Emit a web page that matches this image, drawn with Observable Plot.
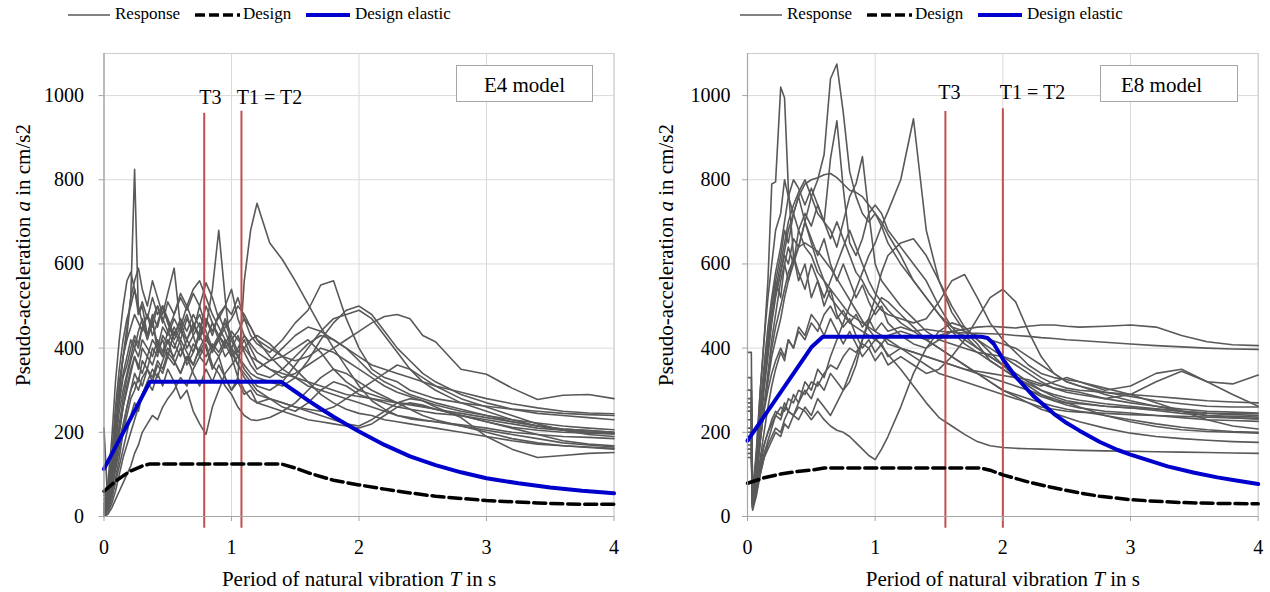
<!DOCTYPE html>
<html><head><meta charset="utf-8">
<script src="https://cdn.jsdelivr.net/npm/d3@7"></script>
<script src="https://cdn.jsdelivr.net/npm/@observablehq/plot@0.6"></script>
<style>
html,body{margin:0;padding:0;background:#fff;}
#root{position:relative;width:1270px;height:592px;font-family:"Liberation Serif","Times New Roman",Times,serif;overflow:hidden;background:#fff;}
.panel{position:absolute;top:0;width:635px;height:592px;}
.panel svg{position:absolute;left:0;top:0;}
.legend{position:absolute;top:0;left:0;width:635px;height:32px;font-size:17px;color:#000;}
.legend svg.sw{position:absolute;top:8px;}
.legend .lab{position:absolute;top:4px;line-height:20px;white-space:nowrap;}
.box{position:absolute;box-sizing:border-box;border:1.4px solid #a6a6a6;background:#fff;font-size:21px;line-height:36px;padding-top:1px;white-space:nowrap;color:#000;}
</style></head>
<body><div id="root"></div>
<script>
// ---------- data ----------
const xTicks = [0, 1, 2, 3, 4];
const yTicks = [0, 200, 400, 600, 800, 1000];
const xTitle = ["Period of natural vibration ", "T", " in s"];
const yTitle = ["Pseudo-acceleration ", "a", " in cm/s2"];
const legendLabels = ["Response", "Design", "Design elastic"];
const modelLabels = ["E4 model", "E8 model"];
const periodLabels = ["T3", "T1 = T2"];

// E4 model
const periodsE4 = [0,0.03,0.06,0.09,0.12, 0.15,0.18,0.21,0.24,0.27, 0.3,0.34,0.38,0.42,0.46, 0.5,0.55,0.6,0.65,0.7, 0.75,0.8,0.85,0.9,0.95, 1.0,1.05,1.1,1.15,1.2, 1.3,1.4,1.5,1.6,1.7, 1.8,1.9,2.0,2.1,2.2, 2.3,2.4,2.5,2.6,2.8, 3.0,3.2,3.4,3.6,3.8, 4.0];
const responseE4 = [
 [210,30,90,180,300, 380,430,520,825,480, 500,430,470,390,420, 380,440,410,360,390, 430,400,350,380,330, 300,320,290,300,270, 280,260,250,270,300, 320,310,290,280,270, 260,255,250,245,240, 230,220,210,205,200, 198],
 [20,40,80,150,200, 260,300,340,380,350, 400,380,420,400,450, 430,470,440,480,430, 460,420,400,380,410, 380,330,560,680,744, 650,610,560,505,450, 400,355,310,275,255, 240,232,228,225,218, 210,200,195,190,188, 185],
 [10,30,60,110,160, 210,260,300,340,320, 370,350,400,380,430, 410,450,420,470,440, 500,450,540,680,520, 380,400,430,410,390, 370,380,400,420,390, 350,320,300,290,280, 270,265,260,255,245, 235,225,215,208,204, 200],
 [30,50,100,200,270, 330,360,400,430,410, 450,480,430,460,500, 470,430,460,420,450, 480,440,400,430,460, 420,440,470,430,410, 390,420,460,490,550, 560,470,400,350,330, 320,300,290,280,270, 262,255,250,245,242, 240],
 [15,40,70,120,180, 220,260,300,320,300, 330,350,320,360,340, 380,360,400,370,410, 390,420,400,430,410, 440,420,400,380,370, 350,330,340,360,380, 400,420,440,460,475, 480,470,430,415,350, 338,305,278,288,290, 280],
 [5,20,50,90,140, 200,240,280,300,330, 310,350,330,370,350, 390,370,340,380,360, 400,380,410,390,420, 400,380,360,340,330, 320,310,330,370,420, 460,490,500,480,440, 400,370,340,320,290, 270,255,245,240,235, 230],
 [25,60,120,220,280, 340,380,420,400,440, 470,430,480,450,500, 460,430,470,440,480, 450,420,460,430,400, 420,380,350,330,310, 300,320,360,400,440, 470,480,490,470,430, 390,350,320,300,270, 250,230,215,205,200, 196],
 [0,10,30,60,100, 140,170,200,230,260, 290,320,300,340,310, 350,320,280,300,250, 220,195,260,300,340, 360,380,400,420,430, 410,380,350,320,290, 270,255,245,240,230, 225,220,215,210,200, 190,180,172,168,164, 160],
 [40,70,140,260,350, 420,470,500,540,480, 510,470,520,480,500, 460,420,450,400,430, 380,410,360,340,310, 290,260,240,230,228, 235,250,270,300,330, 350,340,320,300,285, 270,255,240,230,215, 200,185,175,168,165, 162],
 [10,40,100,200,300, 380,450,520,560,590, 540,500,560,520,480, 530,590,450,500,460, 420,470,430,480,440, 400,430,390,360,340, 330,350,380,410,430, 420,400,370,340,320, 305,290,280,270,255, 240,225,215,208,204, 200],
 [0,5,20,40,60, 80,100,120,150,170, 200,220,240,230,260, 280,300,330,310,350, 380,360,400,420,450, 470,500,480,450,420, 380,350,330,310,300, 290,280,270,260,250, 240,235,230,225,215, 205,195,185,175,170, 165],
 [20,50,90,170,250, 300,340,380,420,400, 450,430,470,500,460, 510,480,530,500,540, 560,520,480,450,420, 390,360,340,320,300, 280,270,260,255,250, 260,280,300,320,340, 360,350,330,310,280, 260,240,220,205,195, 190],
 [10,30,80,160,220, 280,330,370,400,380, 420,400,380,420,390, 440,410,380,420,390, 440,500,460,420,470, 430,390,420,380,350, 370,400,430,450,440, 420,400,380,360,350, 340,330,320,310,295, 280,268,258,250,246, 244],
 [5,15,40,80,120, 160,200,240,270,250, 290,320,350,330,370, 400,380,420,390,360, 400,430,390,420,380, 400,360,330,310,290, 280,270,260,250,240, 230,220,215,230,250, 270,280,275,260,235, 190,160,140,145,150, 152],
 [30,60,130,240,320, 380,420,450,480,460, 440,480,450,500,470, 440,480,520,490,530, 500,555,520,470,500, 540,470,430,400,370, 350,340,330,320,310, 300,290,285,280,275, 270,268,262,255,240, 225,212,205,200,198, 196],
 [50,80,180,320,420, 500,560,580,540,500, 460,420,460,410,380, 420,370,340,380,340, 310,350,320,360,330, 300,330,300,280,270, 260,250,240,230,225, 220,215,210,220,240, 260,270,265,255,240, 225,210,195,180,172, 168],
 [10,25,60,130,200, 260,310,350,380,360, 340,380,360,400,380, 420,400,440,420,460, 430,470,440,480,500, 480,520,470,450,420, 400,380,370,380,400, 390,370,350,330,310, 295,285,275,265,250, 240,230,222,215,210, 206]
];
const designE4T = [0, 0.1, 0.2, 0.3, 0.36, 1.39, 1.5, 1.6, 1.8, 2.0, 2.2, 2.4, 2.6, 2.8, 3.0, 3.2, 3.4, 3.6, 3.8, 4.0];
const designE4A = [60, 86, 107, 120, 125, 125, 115, 104, 86, 75, 65, 56, 48, 43, 38, 35, 32, 30, 29, 29];
const elasticE4T = [0, 0.36, 1.39, 1.5, 1.6, 1.7, 1.8, 1.9, 2.0, 2.2, 2.4, 2.6, 2.8, 3.0, 3.25, 3.5, 3.75, 4.0];
const elasticE4A = [113, 320, 320, 297, 276, 256, 237, 219, 202, 170, 143, 122, 105, 91, 79, 69, 61, 55];
const linesE4T = [0.786, 1.078];
const linesE4Top = [958, 963];
const labelsE4T = [0.835, 1.298];

// E8 model
const periodsE8 = [0,0.03,0.04,0.07,0.1, 0.13,0.16,0.19,0.22,0.26, 0.29,0.32,0.36,0.4,0.45, 0.5,0.55,0.6,0.65,0.7, 0.75,0.8,0.85,0.9,0.95, 1.0,1.05,1.1,1.2,1.3, 1.4,1.5,1.6,1.7,1.8, 1.9,2.0,2.1,2.2,2.3, 2.4,2.5,2.6,2.8,3.0, 3.2,3.4,3.6,3.8,4.0];
const responseE8 = [
 [180,180,40,150,300, 420,560,790,795,1020, 995,780,620,560,600, 520,560,500,540,480, 450,470,430,400,420, 390,410,380,400,380, 360,340,330,320,310, 300,290,280,270,260, 255,250,248,245,242, 240,238,236,234,232],
 [250,250,30,100,180, 260,320,380,420,470, 520,560,600,640,700, 760,800,860,1040,1075, 960,820,760,720,700, 720,690,650,600,560, 520,480,450,440,430, 420,410,400,380,360, 340,320,310,295,285, 275,268,262,260,260],
 [300,300,50,130,250, 330,400,470,540,600, 650,700,740,770,800, 760,720,700,850,940, 780,650,620,660,720, 740,720,680,640,600, 560,500,450,420,400, 380,360,340,320,300, 285,275,270,262,258, 252,245,240,238,236],
 [150,150,20,60,120, 170,200,230,250,240, 270,250,290,270,320, 300,350,330,380,420, 460,500,540,580,620, 650,690,725,800,945, 680,560,485,440,410, 370,350,330,310,290, 275,265,258,250,246, 240,235,230,228,226],
 [280,280,40,120,240, 330,420,500,560,520, 600,640,600,680,720, 690,740,700,680,640, 700,760,790,855,720, 600,560,540,500,470, 440,420,410,400,390, 385,380,370,350,330, 315,305,300,295,290, 285,280,275,272,270],
 [200,200,30,110,210, 300,380,460,520,580, 630,680,720,760,790, 800,805,812,815,805, 790,775,770,760,740, 720,700,670,620,560, 520,480,440,410,390, 370,350,330,315,300, 290,282,276,268,262, 256,250,246,244,244],
 [260,260,30,90,180, 260,330,400,450,500, 540,580,610,640,650, 640,630,610,590,565, 540,515,490,465,445, 425,405,385,350,310, 270,235,215,195,178, 168,164,162,161,160, 159,158,157,156,155, 154,153,152,151,150],
 [390,390,20,60,110, 150,180,210,240,230, 260,250,240,260,250, 230,250,230,215,205, 200,190,175,160,145, 135,160,190,260,340, 400,440,460,450,420, 390,360,330,300,285, 275,270,268,262,258, 255,250,245,242,240],
 [160,160,15,50,100, 140,170,190,210,200, 230,250,240,270,300, 280,320,300,340,320, 300,320,360,420,470, 520,580,620,650,660, 620,560,500,450,420, 400,380,360,340,320, 305,295,290,280,270, 262,255,250,248,246],
 [230,230,25,80,130, 170,200,220,240,260, 250,280,270,300,290, 320,310,340,360,350, 380,400,390,410,400, 420,410,430,440,430, 420,430,440,445,450, 452,450,448,452,455, 455,452,450,452,455, 450,430,415,408,406],
 [270,270,35,110,190, 250,300,340,370,400, 380,420,400,440,420, 460,440,480,500,470, 490,460,480,450,470, 440,460,440,450,440, 445,440,438,436,435, 434,433,430,428,425, 423,420,418,414,410, 406,403,400,398,397],
 [190,190,30,100,220, 320,400,470,530,580, 620,600,660,640,700, 660,620,660,600,560, 600,560,520,550,510, 480,500,460,430,410, 400,420,440,430,400, 380,360,340,320,310, 320,330,320,300,310, 340,350,320,315,336],
 [140,140,20,70,140, 200,260,310,350,390, 370,420,400,450,430, 480,460,430,470,440, 410,440,410,380,400, 370,390,360,380,360, 340,350,380,420,470, 520,540,510,440,380, 340,320,310,290,275, 262,250,240,235,232],
 [330,330,40,140,260, 360,450,520,580,640, 700,760,800,780,740, 780,740,700,660,700, 660,620,580,560,530, 510,490,480,470,460, 470,510,560,575,520, 460,420,390,360,340, 330,325,320,305,290, 270,250,230,215,208],
 [250,250,30,120,230, 330,420,500,560,620, 680,650,720,760,700, 650,600,560,520,500, 480,460,450,440,430, 420,430,410,400,390, 380,370,360,350,340, 330,320,310,300,290, 280,270,260,240,225, 214,206,202,200,198],
 [170,170,25,60,100, 140,160,180,200,190, 220,210,240,230,260, 240,280,260,240,270, 300,340,380,420,460, 490,520,510,480,450, 420,400,380,360,340, 320,300,290,280,270, 262,255,250,240,230, 220,212,206,202,200],
 [210,210,20,90,180, 260,340,420,480,560, 600,560,620,580,540, 600,560,520,560,600, 640,680,640,600,560, 530,510,490,460,440, 420,400,380,360,340, 320,300,285,270,255, 245,235,225,210,198, 190,185,181,178,176],
 [300,300,50,160,300, 420,520,600,680,720, 800,760,720,680,640, 620,580,560,540,520, 500,480,470,460,450, 440,430,420,400,390, 380,370,360,350,345, 340,335,330,325,315, 305,300,295,280,290, 320,345,320,290,262]
];
const designE8T = [0, 0.13, 0.26, 0.39, 0.52, 0.6, 1.83, 1.9, 2.0, 2.2, 2.37, 2.6, 2.76, 3.0, 3.2, 3.42, 3.7, 4.0];
const designE8A = [79, 92, 101, 107, 111, 115, 115, 110, 99, 82, 70, 56, 48, 40, 36, 33, 31, 30];
const elasticE8T = [0, 0.5, 0.59, 1.83, 1.88, 1.93, 2.0, 2.1, 2.24, 2.4, 2.5, 2.6, 2.76, 2.9, 3.0, 3.29, 3.5, 3.68, 3.84, 4.0];
const elasticE8A = [180, 402, 427, 427, 424, 410, 374, 332, 286, 244, 222, 204, 177, 158, 147, 119, 104, 93, 85, 77];
const linesE8T = [1.55, 2.0];
const linesE8Top = [962, 969];
const labelsE8T = [1.582, 2.232];
const linesBottom = -28;

// ---------- drawing ----------
const FONT = "'Liberation Serif','Times New Roman',Times,serif";
const fmt = d => String(d);

function drawPanel(cfg) {
  const table = cfg.responses.flatMap((vals, i) => vals.map((a, j) => ({T: cfg.periods[j], a, id: i})));
  const design = cfg.designT.map((T, i) => ({T, a: cfg.designA[i]}));
  const elastic = cfg.elasticT.map((T, i) => ({T, a: cfg.elasticA[i]}));
  const reds = cfg.linesT.map((T, i) => ({T, top: cfg.linesTop[i], bottom: linesBottom}));
  const labs = periodLabels.map((t, i) => ({t, T: cfg.labelsT[i], y: cfg.labelY}));
  const xt = xTitle.join(""), yt = yTitle.join("");
  const svg = Plot.plot({
    width: 635, height: 592,
    marginLeft: cfg.mL, marginRight: cfg.mR, marginTop: 53, marginBottom: 76,
    style: {fontFamily: FONT, fontSize: "20px", background: "transparent", color: "#000", overflow: "visible"},
    x: {domain: [0, 4]},
    y: {domain: [0, 1100]},
    marks: [
      Plot.gridX(xTicks, {stroke: "#d9d9d9", strokeOpacity: 1, strokeWidth: 1}),
      Plot.gridY(yTicks, {stroke: "#d9d9d9", strokeOpacity: 1, strokeWidth: 1}),
      Plot.frame({stroke: "#cdcdcd"}),
      Plot.line(table, {x: "T", y: "a", z: "id", stroke: "#595959", strokeWidth: 1.6}),
      Plot.ruleX(reds, {x: "T", y1: "bottom", y2: "top", stroke: "#c0504d", strokeWidth: 2}),
      Plot.line(design, {x: "T", y: "a", stroke: "#000", strokeWidth: 3.5, strokeDasharray: "12,5"}),
      Plot.line(elastic, {x: "T", y: "a", stroke: "#0000cc", strokeWidth: 4}),
      Plot.ruleX([0], {stroke: "#a6a6a6", strokeWidth: 1.2}),
      Plot.ruleY([0], {stroke: "#a6a6a6", strokeWidth: 1.2}),
      Plot.axisX(xTicks, {tickSize: 5, tickPadding: 18, fontSize: 20, tickFormat: fmt, stroke: "#a6a6a6", fill: "#000", label: null}),
      Plot.axisY(yTicks, {tickSize: 5, tickPadding: cfg.yPad, fontSize: 20, tickFormat: fmt, stroke: "#a6a6a6", fill: "#000", label: null}),
      Plot.text(labs, {x: "T", y: "y", text: "t", fontSize: 20, lineAnchor: "middle", fill: "#000"}),
      Plot.text([xt], {frameAnchor: "bottom", dy: 63, fontSize: 21, lineAnchor: "middle", textAnchor: "middle", fill: "#000"}),
      Plot.text([yt], {frameAnchor: "left", dx: -81, dy: -30, rotate: -90, fontSize: 21, lineAnchor: "middle", textAnchor: "middle", fill: "#000"})
    ]
  });
  d3.select(svg).selectAll("text").each(function () {
    const s = this.textContent;
    const parts = s === xt ? xTitle : s === yt ? yTitle : null;
    if (!parts) return;
    const sel = d3.select(this);
    sel.text(null).style("white-space", "pre");
    parts.forEach((p, k) => sel.append("tspan").attr("font-style", k === 1 ? "italic" : null).text(p));
  });
  return svg;
}

function addLegend(panel, x0) {
  const lg = document.createElement("div");
  lg.className = "legend";
  const sw = [
    {x: 0, w: 42, stroke: "#595959", sw: 1.6, dash: null, tx: 47},
    {x: 127, w: 45, stroke: "#000", sw: 3.5, dash: "10,4", tx: 175},
    {x: 238, w: 44, stroke: "#0000cc", sw: 4, dash: null, tx: 287}
  ];
  sw.forEach((s, i) => {
    const svg = d3.create("svg").attr("class", "sw").attr("width", s.w).attr("height", 14)
      .style("left", (x0 + s.x) + "px");
    svg.append("line").attr("x1", 0).attr("x2", s.w).attr("y1", 7).attr("y2", 7)
      .attr("stroke", s.stroke).attr("stroke-width", s.sw).attr("stroke-dasharray", s.dash);
    lg.appendChild(svg.node());
    const t = document.createElement("div");
    t.className = "lab";
    t.style.left = (x0 + s.tx) + "px";
    t.textContent = legendLabels[i];
    lg.appendChild(t);
  });
  panel.appendChild(lg);
}

function addBox(panel, text, left, padLeft, center) {
  const b = document.createElement("div");
  b.className = "box";
  b.style.left = left + "px"; b.style.top = "65px";
  b.style.width = "137.6px"; b.style.height = "37.3px";
  b.style.textAlign = center ? "center" : "left";
  b.style.paddingLeft = padLeft + "px";
  b.textContent = text;
  panel.appendChild(b);
}

const root = document.getElementById("root");
const cfgs = [
  {periods: periodsE4, responses: responseE4, designT: designE4T, designA: designE4A, elasticT: elasticE4T, elasticA: elasticE4A,
   linesT: linesE4T, linesTop: linesE4Top, labelsT: labelsE4T, labelY: 995, mL: 103.5, mR: 21.5, yPad: 15,
   legendX: 68, box: {left: 455.7, pad: 0, center: true}},
  {periods: periodsE8, responses: responseE8, designT: designE8T, designA: designE8A, elasticT: elasticE8T, elasticA: elasticE8A,
   linesT: linesE8T, linesTop: linesE8Top, labelsT: labelsE8T, labelY: 1007, mL: 112, mR: 12.3, yPad: 12,
   legendX: 105, box: {left: 465, pad: 20, center: false}}
];
cfgs.forEach((cfg, i) => {
  const p = document.createElement("div");
  p.className = "panel";
  p.style.left = (i * 635) + "px";
  root.appendChild(p);
  p.appendChild(drawPanel(cfg));
  addLegend(p, cfg.legendX);
  addBox(p, modelLabels[i], cfg.box.left, cfg.box.pad, cfg.box.center);
});
</script>
</body></html>
